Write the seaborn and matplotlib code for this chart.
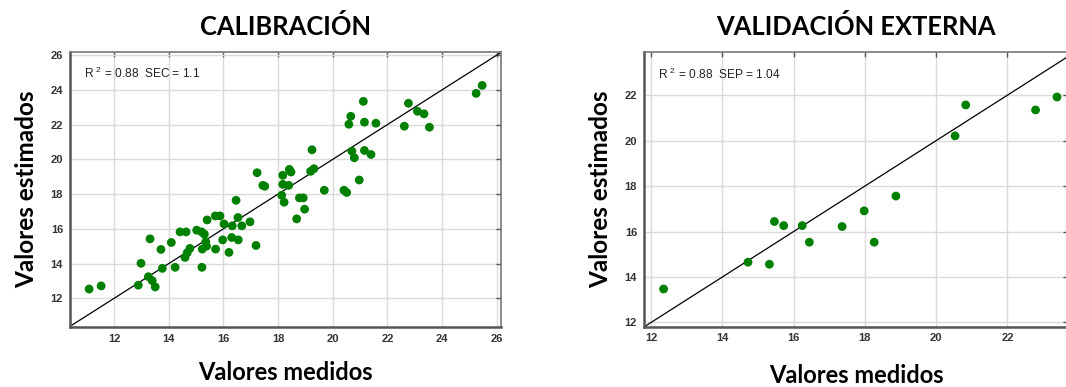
import seaborn as sns
import matplotlib.pyplot as plt
import pandas as pd

# Calibration set: measured vs estimated
cal_medidos = [11.08, 11.52, 12.88, 12.98, 13.31, 13.25, 13.39, 13.50, 13.71, 13.76,
               14.09, 14.23, 14.41, 14.63, 14.59, 14.67, 14.77, 15.02, 15.20, 15.30,
               15.35, 15.22, 15.38, 15.21, 15.71, 15.40, 15.70, 15.87, 16.02, 15.97,
               16.20, 16.30, 16.32, 16.46, 16.53, 16.54, 16.67, 16.97, 17.19, 17.44,
               17.51, 18.17, 18.39, 18.13, 18.22, 18.68, 18.78, 18.92, 18.97, 19.69,
               20.41, 20.51, 17.23, 18.17, 18.41, 18.47, 19.24, 19.19, 19.31, 21.12,
               20.66, 20.59, 21.16, 21.58, 22.77, 23.10, 22.62, 20.70, 20.79, 21.16,
               21.40, 20.97, 23.34, 23.54, 25.25, 25.47]
cal_estimados = [12.53, 12.71, 12.75, 14.01, 15.42, 13.24, 13.01, 12.65, 14.81, 13.72,
                 15.21, 13.78, 15.82, 15.82, 14.35, 14.62, 14.87, 15.92, 15.82, 15.69,
                 15.25, 14.83, 15.00, 13.78, 14.83, 16.51, 16.74, 16.74, 16.28, 15.36,
                 14.64, 15.50, 16.17, 17.64, 16.65, 15.36, 16.17, 16.40, 15.04, 18.50,
                 18.45, 18.56, 18.50, 17.93, 17.53, 16.57, 17.78, 17.78, 17.13, 18.22,
                 18.22, 18.09, 19.23, 19.08, 19.42, 19.27, 20.55, 19.31, 19.46, 23.34,
                 22.48, 22.02, 22.14, 22.08, 23.23, 22.77, 21.91, 20.47, 20.09, 20.51,
                 20.28, 18.81, 22.62, 21.85, 23.80, 24.26]

# External validation set
val_medidos = [12.35, 14.72, 15.32, 15.46, 15.72, 16.24, 16.44, 17.36, 17.98, 18.26,
               18.87, 20.53, 20.83, 22.79, 23.39]
val_estimados = [13.47, 14.65, 14.56, 16.44, 16.26, 16.26, 15.53, 16.22, 16.91, 15.53,
                 17.56, 20.21, 21.57, 21.35, 21.92]

cal = pd.DataFrame({"medidos": cal_medidos, "estimados": cal_estimados})
val = pd.DataFrame({"medidos": val_medidos, "estimados": val_estimados})

sns.set_style("whitegrid")
plt.rcParams["font.family"] = ["Liberation Sans", "DejaVu Sans"]
plt.rcParams["mathtext.fontset"] = "custom"
plt.rcParams["mathtext.rm"] = "Liberation Sans"
plt.rcParams["mathtext.default"] = "regular"

fig = plt.figure(figsize=(10.66, 3.87), dpi=100)
ax1 = fig.add_axes([70 / 1066, 60.3 / 387, 431 / 1066, 275 / 387])
ax2 = fig.add_axes([644 / 1066, 60.5 / 387, 424 / 1066, 274.5 / 387])

panels = [
    (ax1, cal, "CALIBRACIÓN", "R $^{2}$ = 0.88  SEC = 1.1", (10.38, 26.16), (10.36, 26.2), 12.5),
    (ax2, val, "VALIDACIÓN EXTERNA", "R $^{2}$ = 0.88  SEP = 1.04", (11.8, 23.7), (11.82, 23.9), 15),
]

for ax, df, title, note, xlim, ylim, xpad in panels:
    sns.scatterplot(data=df, x="medidos", y="estimados", ax=ax,
                    color="#008000", s=40, edgecolor="none", zorder=3)
    ax.axline((12, 12), slope=1, color="black", lw=0.9, zorder=2)
    ax.set_xlim(*xlim)
    ax.set_ylim(*ylim)
    ax.set_xticks(range(12, int(xlim[1]) + 1, 2))
    ax.set_yticks(range(12, int(ylim[1]) + 1, 2))
    ax.grid(True, color="#dadada", lw=1)
    ax.tick_params(direction="in", length=3.5, width=1, color="#555555",
                   top=True, right=True, labelsize=8, labelcolor="#333333", pad=5)
    for lab in ax.get_xticklabels() + ax.get_yticklabels():
        lab.set_fontweight("bold")
    for side in ["left", "bottom"]:
        ax.spines[side].set_color("#555555")
        ax.spines[side].set_linewidth(1.8)
    for side in ["top", "right"]:
        ax.spines[side].set_color("#777777")
        ax.spines[side].set_linewidth(1.2)
    ax.set_title(title, fontsize=18.4, fontweight="bold", family="Lato", color="black", pad=12)
    ax.set_xlabel("Valores medidos", fontsize=17, fontweight="bold", family="Lato",
                  color="black", labelpad=xpad)
    ax.set_ylabel("Valores estimados", fontsize=17.5, fontweight="bold", family="Lato",
                  color="black", labelpad=9)
    ax.text(0.032, 0.92, note, transform=ax.transAxes, fontsize=8.6, va="center", color="#222222")

fig.savefig("out.png", dpi=100)
